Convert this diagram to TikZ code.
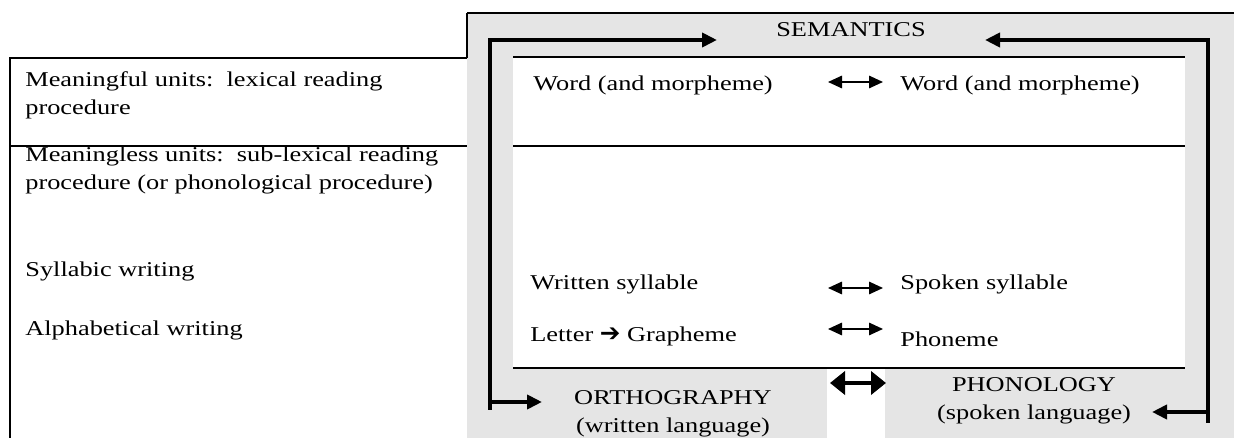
\documentclass[tikz,border=0pt]{standalone}
\usepackage{fontspec}
\setmainfont{Liberation Serif}[FakeStretch=1.25]
\newfontfamily\symfont{DejaVu Sans}
\usetikzlibrary{arrows.meta}

\begin{document}
\begin{tikzpicture}[x=0.02cm, y=-0.02cm,
    txt/.style={anchor=base west, inner sep=0pt, align=left,
      font=\fontsize{12}{16}\selectfont},
    mid/.style={txt, anchor=base, align=center},
    rule/.style={line width=1pt},
    flow/.style={line width=2.3pt, -{Triangle[length=0.3cm,width=0.28cm]}},
    link/.style={line width=0.9pt,
      {Triangle[length=0.28cm,width=0.25cm]}-{Triangle[length=0.28cm,width=0.25cm]}},
    boldlink/.style={line width=2.3pt,
      {Triangle[length=0.3cm,width=0.46cm]}-{Triangle[length=0.3cm,width=0.46cm]}}]
   \useasboundingbox (0,0) rectangle (1234,438);

   % grey frame round the table
   \fill[gray!20] (467,13) rectangle (1234,438);
   \fill[white] (513,57) rectangle (1185,368);
   \fill[white] (827,368) rectangle (885,438);

   \draw[rule] (467,13) -- (1234,13);
   \draw[rule] (467,13) -- (467,58);
   \draw[rule] (10,438) -- (10,58) -- (467,58);
   \draw[rule] (10,146) -- (467,146);
   \draw[rule] (513,57) -- (1185,57);
   \draw[rule] (513,146) -- (1185,146);
   \draw[rule] (513,368) -- (1185,368);

   % left column (base = last line)
   \node[txt] (lexical) at (25,115) {Meaningful units:\ \ lexical reading\\procedure};
   \node[txt] (sublexical) at (25,190) {Meaningless units:\ \ sub-lexical reading\\procedure (or phonological procedure)};
   \node[txt] (syllabic) at (25,277) {Syllabic writing};
   \node[txt] (alphabet) at (25,336) {Alphabetical writing};

   % units
   \node[mid] (semantics) at (851,37) {SEMANTICS};
   \node[txt] (wordW) at (533,91) {Word (and morpheme)};
   \node[txt] (wordS) at (900,91) {Word (and morpheme)};
   \node[txt] (syllW) at (530,290) {Written syllable};
   \node[txt] (syllS) at (900,290) {Spoken syllable};
   \node[txt] (letter) at (530,342) {Letter {\symfont\bfseries\fontsize{14}{16}\selectfont ➔} Grapheme};
   \node[txt] (phoneme) at (900,347) {Phoneme};
   \node[mid] (ortho) at (673,433) {ORTHOGRAPHY\\(written language)};
   \node[mid] (phono) at (1034,420) {PHONOLOGY\\(spoken language)};

   % correspondences
   \coordinate (wordA) at (828,82);   \coordinate (wordB) at (883,82);
   \coordinate (syllA) at (828,288);  \coordinate (syllB) at (883,288);
   \coordinate (phonA) at (828,329);  \coordinate (phonB) at (883,329);
   \coordinate (langA) at (830,383);  \coordinate (langB) at (886,383);
   \draw[link] (wordA) -- (wordB);
   \draw[link] (syllA) -- (syllB);
   \draw[link] (phonA) -- (phonB);
   \draw[boldlink] (langA) -- (langB);

   % routes to semantics
   \coordinate (semL) at (717,40);
   \coordinate (orthL) at (542,402);
   \coordinate (cornerL) at (490,410);
   \coordinate (semR) at (985,40);
   \coordinate (phonR) at (1152,412);
   \coordinate (cornerR) at (1208,423);
   \draw[flow] (cornerL) |- (semL);
   \draw[flow] (cornerL |- orthL) -- (orthL);
   \draw[flow] (cornerR) |- (semR);
   \draw[flow] (cornerR |- phonR) -- (phonR);
\end{tikzpicture}
\end{document}
